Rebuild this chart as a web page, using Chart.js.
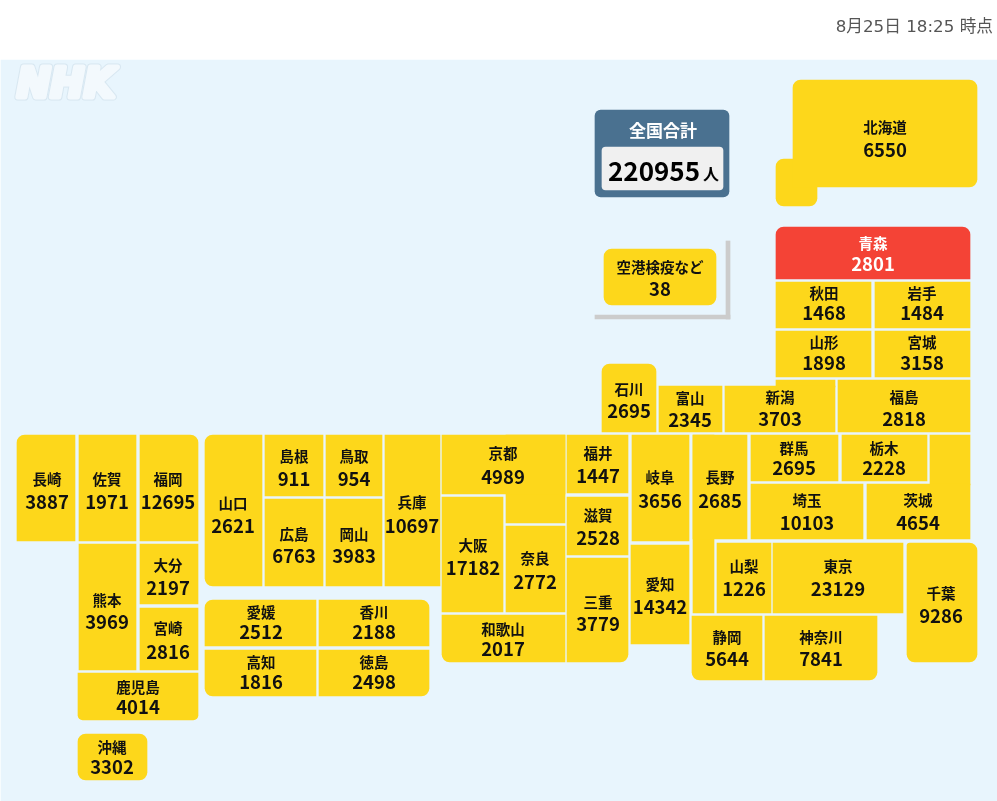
<!DOCTYPE html>
<html lang="ja">
<head>
<meta charset="utf-8">
<title>全国合計</title>
<script src="https://cdn.jsdelivr.net/npm/chart.js@4"></script>
<style>
html, body { margin: 0; padding: 0; background: #fff; }
#wrap { width: 997px; height: 801px; }
canvas { display: block; }
</style>
</head>
<body>
<div id="wrap"><canvas id="tileChart" width="997" height="801"></canvas></div>
<script>
// data
var prefNames = ['北海道', '青森', '秋田', '岩手', '山形', '宮城', '石川', '富山', '新潟', '福島',
	'福井', '岐阜', '長野', '群馬', '栃木', '埼玉', '茨城', '滋賀', '愛知', '山梨', '東京', '千葉',
	'静岡', '神奈川', '三重', '京都', '大阪', '奈良', '和歌山', '兵庫', '山口', '島根', '鳥取', '広島', '岡山',
	'愛媛', '香川', '高知', '徳島', '長崎', '佐賀', '福岡', '熊本', '大分', '宮崎', '鹿児島', '沖縄', '空港検疫など'];
var prefCounts = [6550, 2801, 1468, 1484, 1898, 3158, 2695, 2345, 3703, 2818,
	1447, 3656, 2685, 2695, 2228, 10103, 4654, 2528, 14342, 1226, 23129, 9286,
	5644, 7841, 3779, 4989, 17182, 2772, 2017, 10697, 2621, 911, 954, 6763, 3983,
	2512, 2188, 1816, 2498, 3887, 1971, 12695, 3969, 2197, 2816, 4014, 3302, 38];
var alertPrefs = ['青森'];
var totalLabel = '全国合計';
var totalCount = 220955;
var totalUnit = '人';
var timeLabel = '8月25日 18:25 時点';

// tile map layout in axis units: [x0, y0, x1, y1, rounded corners "tl tr br bl"]
var R = 8;
var tilePieces = {
	'北海道': [[793, 80, 977, 187, [R, R, R, 0]], [776, 159, 817, 206, [R, 0, R, R]]],
	'青森': [[776, 227, 970, 279, [R, R, 0, 0]]],
	'秋田': [[776, 282, 871, 328]],
	'岩手': [[875, 282, 970, 328]],
	'山形': [[776, 331, 871, 377]],
	'宮城': [[875, 331, 970, 377]],
	'石川': [[602, 364, 656, 432, [R, R, 0, 0]]],
	'富山': [[659, 386, 722, 432]],
	'新潟': [[725, 386, 835, 432], [776, 380, 835, 387]],
	'福島': [[838, 380, 970, 432]],
	'福井': [[567, 435, 628, 493]],
	'岐阜': [[632, 435, 689, 541]],
	'長野': [[693, 435, 747, 539], [693, 435, 714, 613]],
	'群馬': [[751, 435, 838, 481]],
	'栃木': [[842, 435, 927, 481]],
	'埼玉': [[751, 484, 863, 539]],
	'茨城': [[867, 484, 970, 539], [930, 435, 970, 485]],
	'滋賀': [[567, 497, 628, 555]],
	'愛知': [[631, 545, 689, 644]],
	'山梨': [[717, 543, 771, 613]],
	'東京': [[773, 543, 903, 613]],
	'千葉': [[907, 543, 977, 662, [3, R, R, R]]],
	'静岡': [[692, 616, 762, 680, [0, 0, 0, R]]],
	'神奈川': [[765, 616, 877, 680, [0, 0, R, 0]]],
	'三重': [[567, 558, 628, 662, [0, 0, R, 0]]],
	'京都': [[442, 435, 565, 494], [506, 435, 565, 523]],
	'大阪': [[442, 497, 503, 612]],
	'奈良': [[506, 526, 565, 612]],
	'和歌山': [[442, 615, 565, 662, [0, 0, 0, R]]],
	'兵庫': [[385, 435, 440, 586]],
	'山口': [[205, 435, 262, 586, [R, 0, 0, R]]],
	'島根': [[265, 435, 323, 496]],
	'鳥取': [[326, 435, 382, 496]],
	'広島': [[265, 499, 323, 586]],
	'岡山': [[326, 499, 382, 586]],
	'愛媛': [[205, 600, 316, 646, [R, 0, 0, 0]]],
	'香川': [[319, 600, 429, 646, [0, R, 0, 0]]],
	'高知': [[205, 650, 316, 696, [0, 0, 0, R]]],
	'徳島': [[319, 650, 429, 696, [0, 0, R, 0]]],
	'長崎': [[17, 435, 75, 541, [R, 0, 0, 0]]],
	'佐賀': [[79, 435, 136, 541]],
	'福岡': [[140, 435, 198, 541, [0, R, 0, 0]]],
	'熊本': [[79, 544, 136, 670]],
	'大分': [[140, 544, 198, 604]],
	'宮崎': [[140, 608, 198, 670]],
	'鹿児島': [[78, 673, 198, 720, [0, 0, 5, 5]]],
	'沖縄': [[78, 734, 147, 780, [R, R, R, R]]],
	'空港検疫など': [[604, 249, 716, 305, [R, R, R, R]]]
};

// where the two lines of text sit: [x, name y, count y]
var labelSpots = {
	'北海道': [885, 127, 150], '青森': [873, 243, 264], '秋田': [824, 293, 313], '岩手': [922, 293, 313],
	'山形': [824, 342, 363], '宮城': [922, 342, 363], '石川': [629, 389, 411], '富山': [690, 398, 420],
	'新潟': [780, 397, 419], '福島': [904, 397, 419], '福井': [598, 453, 476], '岐阜': [660, 477, 501],
	'長野': [720, 477, 501], '群馬': [794, 448, 468], '栃木': [884, 448, 468], '埼玉': [807, 500, 523],
	'茨城': [918, 500, 523], '滋賀': [598, 515, 538], '愛知': [660, 584, 607], '山梨': [744, 566, 589],
	'東京': [838, 566, 589], '千葉': [941, 593, 616], '静岡': [727, 637, 659], '神奈川': [821, 637, 659],
	'三重': [598, 602, 624], '京都': [503, 453, 477], '大阪': [473, 545, 568], '奈良': [535, 558, 582],
	'和歌山': [503, 629, 649], '兵庫': [412, 502, 526], '山口': [233, 503, 526], '島根': [294, 456, 479],
	'鳥取': [354, 456, 479], '広島': [294, 534, 556], '岡山': [354, 534, 556], '愛媛': [261, 612, 632],
	'香川': [374, 612, 632], '高知': [261, 662, 682], '徳島': [374, 662, 682], '長崎': [47, 479, 502],
	'佐賀': [107, 479, 502], '福岡': [168, 479, 502], '熊本': [107, 600, 622], '大分': [168, 565, 588],
	'宮崎': [168, 628, 652], '鹿児島': [138, 687, 707], '沖縄': [112, 747, 767], '空港検疫など': [660, 267, 289]
};

var YELLOW = '#fdd71b';
var RED = '#f44336';
var JP_FONT = '"Noto Sans CJK JP", "Noto Sans", sans-serif';

function boxDataset(box, color, order) {
	var corners = box[4] || [0, 0, 0, 0];
	return {
		data: [{ x: (box[0] + box[2]) / 2, y: [box[1], box[3]] }],
		backgroundColor: color,
		barThickness: box[2] - box[0],
		grouped: false,
		borderSkipped: false,
		borderWidth: 0,
		borderRadius: { topLeft: corners[0], topRight: corners[1], bottomRight: corners[2], bottomLeft: corners[3] },
		order: order
	};
}

var datasets = [];
// sea panel, the total box and the grey corner lines come first
datasets.push(boxDataset([1, 60, 997, 801], '#e8f5fd', 9));
datasets.push(boxDataset([595, 110, 729, 197, [6, 6, 6, 6]], '#4a7190', 5));
datasets.push(boxDataset([602, 147, 723, 190, [4, 4, 4, 4]], '#f0f0f0', 4));
datasets.push(boxDataset([726, 241, 730, 319], '#cccccc', 5));
datasets.push(boxDataset([595, 315, 730, 319], '#cccccc', 5));
prefNames.forEach(function (name) {
	var color = alertPrefs.indexOf(name) >= 0 ? RED : YELLOW;
	tilePieces[name].forEach(function (box) {
		datasets.push(boxDataset(box, color, 1));
	});
});

var tileLabels = {
	id: 'tileLabels',
	afterDatasetsDraw: function (chart) {
		var ctx = chart.ctx;
		var sx = chart.scales.x;
		var sy = chart.scales.y;
		ctx.save();
		ctx.textAlign = 'center';
		ctx.textBaseline = 'middle';

		prefNames.forEach(function (name, i) {
			var spot = labelSpots[name];
			var px = sx.getPixelForValue(spot[0]);
			ctx.fillStyle = alertPrefs.indexOf(name) >= 0 ? '#ffffff' : '#111111';
			ctx.font = 'bold 14.5px ' + JP_FONT;
			ctx.fillText(name, px, sy.getPixelForValue(spot[1]));
			ctx.font = 'bold 18.5px ' + JP_FONT;
			ctx.fillText(String(prefCounts[i]), px, sy.getPixelForValue(spot[2]));
		});

		// total box
		ctx.fillStyle = '#ffffff';
		ctx.font = 'bold 17px ' + JP_FONT;
		ctx.fillText(totalLabel, sx.getPixelForValue(663), sy.getPixelForValue(131));
		ctx.fillStyle = '#000000';
		ctx.font = 'bold 26px ' + JP_FONT;
		ctx.fillText(String(totalCount), sx.getPixelForValue(654), sy.getPixelForValue(171));
		ctx.font = 'bold 16px ' + JP_FONT;
		ctx.fillText(totalUnit, sx.getPixelForValue(711), sy.getPixelForValue(174));

		// time stamp
		ctx.textAlign = 'right';
		ctx.fillStyle = '#555555';
		ctx.font = '16.7px "DejaVu Sans", ' + JP_FONT;
		ctx.fillText(timeLabel, sx.getPixelForValue(993), sy.getPixelForValue(28));

		// logo
		ctx.textAlign = 'left';
		ctx.font = 'italic bold 40px "DejaVu Sans", sans-serif';
		ctx.lineJoin = 'round';
		ctx.strokeStyle = 'rgba(214,230,240,0.9)';
		ctx.lineWidth = 7;
		ctx.strokeText('NHK', sx.getPixelForValue(17), sy.getPixelForValue(87));
		ctx.strokeStyle = '#f3f9fd';
		ctx.lineWidth = 5;
		ctx.strokeText('NHK', sx.getPixelForValue(17), sy.getPixelForValue(87));
		ctx.fillStyle = '#f3f9fd';
		ctx.fillText('NHK', sx.getPixelForValue(17), sy.getPixelForValue(87));
		ctx.restore();
	}
};

var tileChart = new Chart(document.getElementById('tileChart').getContext('2d'), {
	type: 'bar',
	data: { datasets: datasets },
	options: {
		responsive: false,
		animation: false,
		layout: { padding: 0 },
		plugins: { legend: { display: false }, tooltip: { enabled: false } },
		scales: {
			x: { type: 'linear', min: 0, max: 997, display: false, offset: false },
			y: { type: 'linear', min: 0, max: 801, reverse: true, display: false }
		}
	},
	plugins: [tileLabels]
});
</script>
</body>
</html>
